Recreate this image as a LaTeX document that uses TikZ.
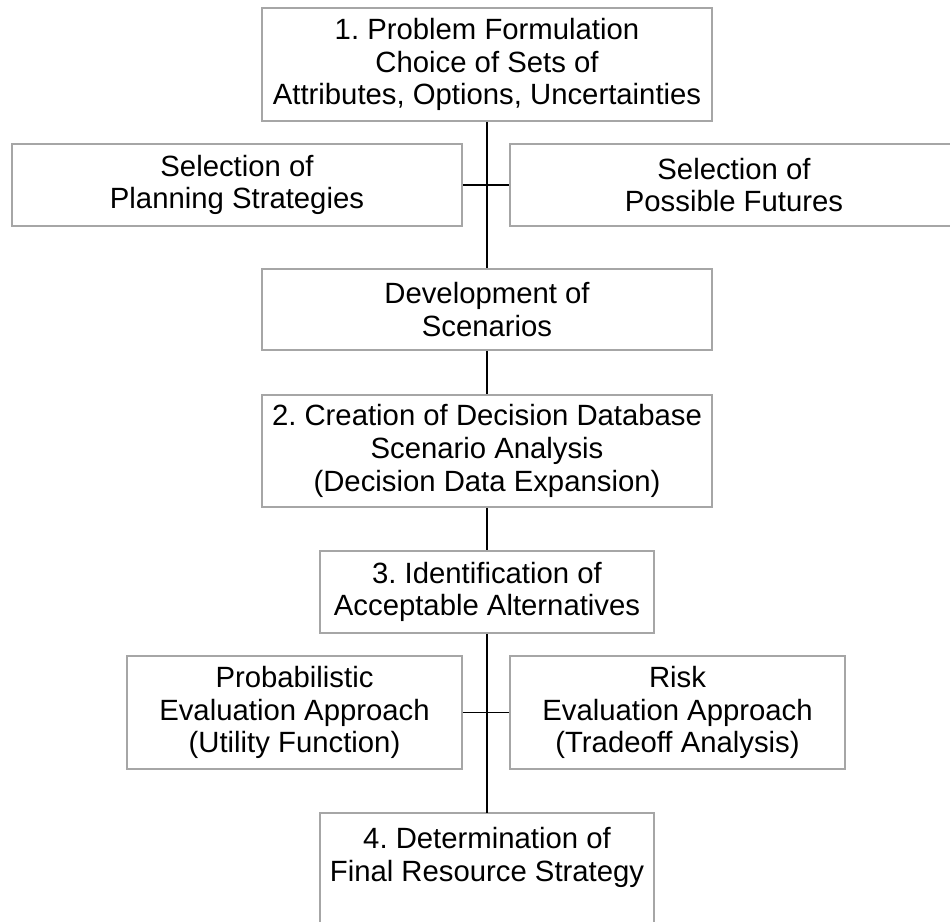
\documentclass[tikz,border=0pt]{standalone}
\usepackage{fontspec}
\setmainfont{Liberation Sans}
\frenchspacing
\begin{document}
\begin{tikzpicture}[x=1pt,y=-1pt,
  box/.style={draw=gray!70, line width=1.6pt, fill=white, align=center, inner sep=0pt,
    font=\fontsize{29.3}{32.8}\selectfont},
  openbox/.style={align=center, inner sep=0pt, font=\fontsize{29.3}{32.8}\selectfont},
  boxline/.style={draw=gray!70, line width=1.6pt},
  link/.style={draw=black, line width=1.6pt}]
\useasboundingbox (0,0) rectangle (950,921);
\clip (0,0) rectangle (950,921);
\node[box, minimum width=450pt, minimum height=113pt] (p1) at (487,64.5)
  {1. Problem Formulation\\Choice of Sets of\\Attributes, Options, Uncertainties};
\node[box, minimum width=450pt, minimum height=82pt] (ps) at (237,185)
  {Selection of\\Planning Strategies};
\node[box, minimum width=448pt, minimum height=82pt] (pf) at (734,185)
  {Selection of\\Possible Futures};
\node[box, minimum width=450pt, minimum height=81pt] (dev) at (487,309.5)
  {Development of\\Scenarios};
\node[box, minimum width=450pt, minimum height=112pt] (p2) at (487,451)
  {2. Creation of Decision Database\\Scenario Analysis\\(Decision Data Expansion)};
\node[box, minimum width=334pt, minimum height=82pt] (p3) at (487,592)
  {3. Identification of\\Acceptable Alternatives};
\node[box, minimum width=335pt, minimum height=113pt] (prob) at (294.5,712.5)
  {Probabilistic\\Evaluation Approach\\(Utility Function)};
\node[box, minimum width=335pt, minimum height=113pt] (risk) at (677.5,712.5)
  {Risk\\Evaluation Approach\\(Tradeoff Analysis)};
\node[openbox, anchor=north, minimum width=334pt, inner ysep=14pt] (p4) at (487,813)
  {4. Determination of\\Final Resource Strategy};
\draw[boxline] ([yshift=-150pt]p4.north west) -- (p4.north west) -- (p4.north east) -- ([yshift=-150pt]p4.north east);
% connectors
\draw[link] (p1.south) -- (dev.north);
\draw[link] (ps.east) -- (pf.west);
\draw[link] (dev.south) -- (p2.north);
\draw[link] (p2.south) -- (p3.north);
\draw[link] (p3.south) -- (p4.north);
\draw[link] (prob.east) -- (risk.west);
\end{tikzpicture}
\end{document}
